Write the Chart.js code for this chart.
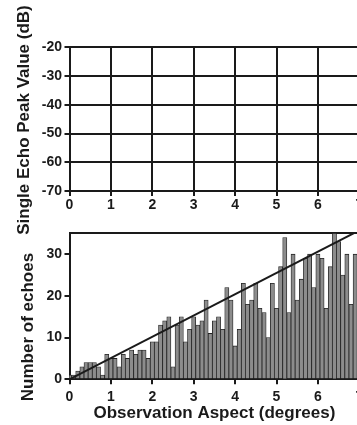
<!DOCTYPE html>
<html>
<head>
<meta charset="utf-8">
<script src="https://cdn.jsdelivr.net/npm/chart.js@4.4.1/dist/chart.umd.min.js"></script>
<style>
  html, body { margin: 0; padding: 0; background: #fff; overflow: hidden; }
  body { width: 357px; height: 425px; position: relative; }
  canvas { position: absolute; left: 0; }
  #peakChart { top: 0; }
  #countChart { top: 215px; }
</style>
</head>
<body>
<canvas id="peakChart" width="380" height="240"></canvas>
<canvas id="countChart" width="380" height="210"></canvas>
<script>
// Histogram bins (degrees) and echo counts per bin
const aspectBins = [
  0.0, 0.1, 0.2, 0.3, 0.4, 0.5, 0.6, 0.7, 0.8, 0.9,
  1.0, 1.1, 1.2, 1.3, 1.4, 1.5, 1.6, 1.7, 1.8, 1.9,
  2.0, 2.1, 2.2, 2.3, 2.4, 2.5, 2.6, 2.7, 2.8, 2.9,
  3.0, 3.1, 3.2, 3.3, 3.4, 3.5, 3.6, 3.7, 3.8, 3.9,
  4.0, 4.1, 4.2, 4.3, 4.4, 4.5, 4.6, 4.7, 4.8, 4.9,
  5.0, 5.1, 5.2, 5.3, 5.4, 5.5, 5.6, 5.7, 5.8, 5.9,
  6.0, 6.1, 6.2, 6.3, 6.4, 6.5, 6.6, 6.7, 6.8, 6.9,
  7.0
];
const echoCounts = [
  1, 1, 2, 3, 4, 4, 4, 3, 1, 6,
  5, 5, 3, 6, 5, 7, 6, 7, 7, 5,
  9, 9, 13, 14, 15, 3, 13, 15, 9, 12,
  15, 13, 14, 19, 11, 14, 15, 12, 22, 19,
  8, 12, 23, 18, 19, 23, 17, 16, 10, 23,
  17, 27, 34, 16, 30, 19, 24, 29, 30, 22,
  30, 29, 17, 27, 35, 33, 25, 30, 18, 30,
  12
];
// straight reference line
const trendAspect = [0, 7];
const trendCount = [0, 35.7];

const aspectTicks = [0, 1, 2, 3, 4, 5, 6, 7];
const peakTicks = [-70, -60, -50, -40, -30, -20];
const countTicks = [0, 10, 20, 30];

const INK = '#1a1a1a';
const FONT = '"Liberation Sans", Arial, sans-serif';

// rotated y-axis title, placed by hand
const sideTitle = {
  id: 'sideTitle',
  afterDraw(chart, args, opts) {
    const ctx = chart.ctx;
    ctx.save();
    ctx.translate(opts.x, opts.y);
    ctx.rotate(-Math.PI / 2);
    ctx.font = 'bold 17px ' + FONT;
    ctx.fillStyle = INK;
    ctx.textAlign = 'center';
    ctx.textBaseline = 'alphabetic';
    ctx.fillText(opts.text, 0, 0);
    ctx.restore();
  }
};

const useTicks = (list) => (scale) => {
  scale.ticks = list.map(v => ({ value: v }));
};

const tickFont = { family: FONT, size: 14, weight: 'bold' };

// Top panel: empty grid
new Chart(document.getElementById('peakChart'), {
  type: 'scatter',
  data: { datasets: [] },
  plugins: [sideTitle],
  options: {
    responsive: false,
    animation: false,
    layout: { padding: { left: 0, top: 47.3, right: 20.7, bottom: 25 } },
    plugins: {
      legend: { display: false },
      tooltip: { enabled: false },
      sideTitle: { text: 'Single Echo Peak Value (dB)', x: 28.5, y: 120 }
    },
    scales: {
      x: {
        type: 'linear', min: 0, max: 7,
        afterBuildTicks: useTicks(aspectTicks),
        afterFit: (s) => { s.height = 24; },
        grid: { color: INK, lineWidth: 2, tickLength: 5, tickColor: INK },
        border: { color: INK, width: 2 },
        ticks: { color: INK, font: tickFont, padding: 1, maxRotation: 0, callback: v => String(v) }
      },
      y: {
        type: 'linear', min: -70, max: -20,
        afterBuildTicks: useTicks(peakTicks),
        afterFit: (s) => { s.width = 69.5; },
        grid: { color: INK, lineWidth: 2, tickLength: 5, tickColor: INK },
        border: { color: INK, width: 2 },
        ticks: { color: INK, font: tickFont, padding: 2.5, callback: v => String(v) }
      }
    }
  }
});

// Bottom panel: histogram with line
new Chart(document.getElementById('countChart'), {
  type: 'bar',
  data: {
    datasets: [
      {
        type: 'line',
        data: trendAspect.map((x, i) => ({ x: x, y: trendCount[i] })),
        borderColor: INK,
        borderWidth: 2,
        pointRadius: 0,
        clip: 0,
        order: 0
      },
      {
        data: aspectBins.map((x, i) => ({ x: x, y: echoCounts[i] })),
        backgroundColor: '#8c8c8c',
        borderColor: '#222',
        borderWidth: 0.8,
        borderSkipped: 'start',
        categoryPercentage: 1,
        barPercentage: 1,
        clip: 0,
        order: 1
      }
    ]
  },
  plugins: [sideTitle],
  options: {
    responsive: false,
    animation: false,
    layout: { padding: { left: 0, top: 18.3, right: 20.7, bottom: 0 } },
    plugins: {
      legend: { display: false },
      tooltip: { enabled: false },
      sideTitle: { text: 'Number of echoes', x: 33, y: 112 }
    },
    scales: {
      x: {
        type: 'linear', min: 0, max: 7, offset: false, z: 1,
        afterBuildTicks: useTicks(aspectTicks),
        afterFit: (s) => { s.height = 45.7; },
        grid: { offset: false, drawOnChartArea: false, tickLength: 5, tickColor: INK, lineWidth: 2 },
        border: { color: INK, width: 2 },
        ticks: { color: INK, font: tickFont, padding: 4, maxRotation: 0, callback: v => String(v) },
        title: {
          display: true,
          text: 'Observation Aspect (degrees)',
          color: INK,
          font: { family: FONT, size: 17, weight: 'bold' },
          padding: { top: 0, bottom: 1.4 }
        }
      },
      x2: {
        type: 'linear', position: 'top', min: 0, max: 7,
        afterFit: (s) => { s.height = 0; },
        grid: { display: false, drawTicks: false },
        border: { display: true, color: INK, width: 2 },
        ticks: { display: false }
      },
      y: {
        type: 'linear', min: 0, max: 35, z: 1,
        afterBuildTicks: useTicks(countTicks),
        afterFit: (s) => { s.width = 69.5; },
        grid: { drawOnChartArea: false, tickLength: 5, tickColor: INK, lineWidth: 2 },
        border: { color: INK, width: 2 },
        ticks: { color: INK, font: tickFont, padding: 2.5, callback: v => String(v) }
      }
    }
  }
});
</script>
</body>
</html>
